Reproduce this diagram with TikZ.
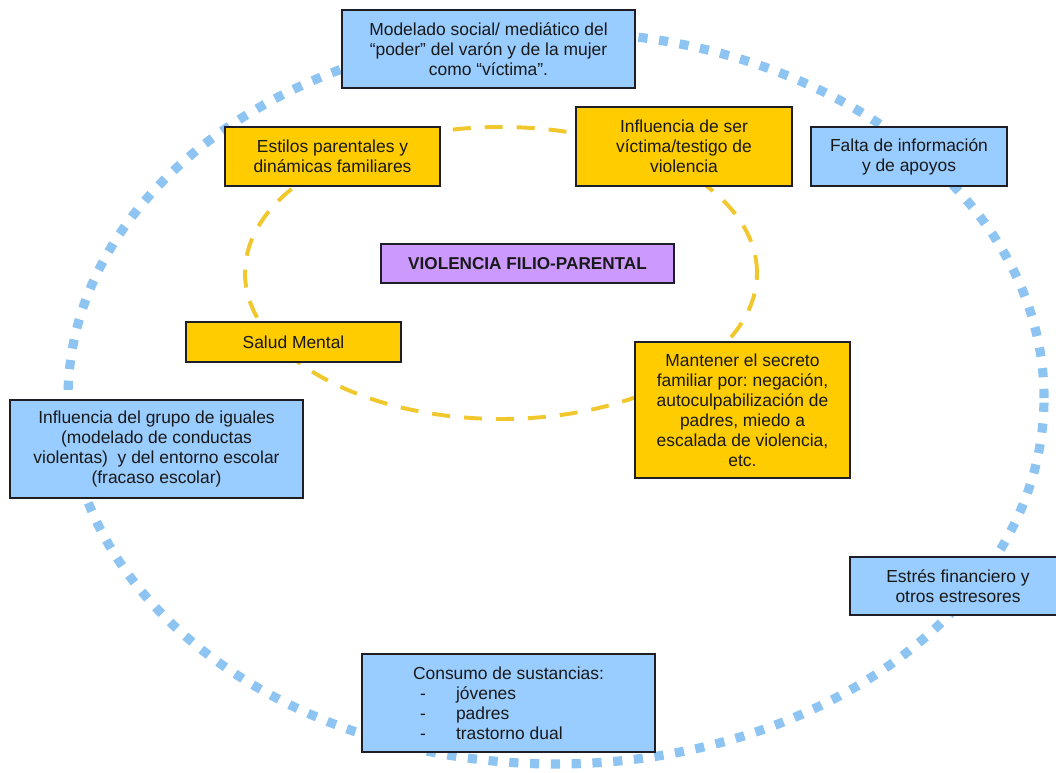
\documentclass[tikz,border=0pt]{standalone}
\usepackage{fontspec}
\setmainfont{Liberation Sans}
\usepackage{tikz}
\frenchspacing

\definecolor{boxblue}{RGB}{153,204,255}
\definecolor{boxorange}{RGB}{255,204,0}
\definecolor{boxpurple}{RGB}{204,153,255}
\definecolor{dotblue}{RGB}{142,196,242}
\definecolor{dashyellow}{RGB}{240,200,45}
\definecolor{boxline}{RGB}{30,30,40}

\tikzset{
  factor/.style={draw=boxline, line width=0.9pt, inner sep=0pt, align=center,
    font=\fontsize{12.4}{14.2}\selectfont, text=black!90},
  outerfactor/.style={factor, fill=boxblue},
  innerfactor/.style={factor, fill=boxorange},
  corefactor/.style={factor, fill=boxpurple, font=\fontsize{12.2}{14.2}\selectfont\bfseries},
}

\begin{document}
\begin{tikzpicture}
                  \useasboundingbox (0,0) rectangle (26.4,-19.325);
                  \coordinate (O) at (13.9,-9.95);
                  \coordinate (I) at (12.525,-6.825);
                  % Draw the two rings
                  \draw[dotblue, line width=0.23cm, dash pattern=on 0.23cm off 0.29cm] (O) ellipse [x radius=12.2cm, y radius=9.15cm];
                  \draw[dashyellow, line width=2.8pt, dash pattern=on 0.45cm off 0.35cm] (I) ellipse [x radius=6.4cm, y radius=3.65cm];

                  % Outer factors (blue)
                  \node[outerfactor, minimum width=7.325cm, minimum height=1.95cm] (modelado) at (12.2125,-1.225)
                    {Modelado social/ mediático del\\ “poder” del varón y de la mujer\\ como “víctima”.};
                  \node[outerfactor, minimum width=4.9cm, minimum height=1.475cm] (falta) at (22.725,-3.9125)
                    {Falta de información\\ y de apoyos};
                  \node[outerfactor, minimum width=7.325cm, minimum height=2.45cm] (grupo) at (3.9125,-11.225)
                    {Influencia del grupo de iguales\\ (modelado de conductas\\ violentas)~ y del entorno escolar\\ (fracaso escolar)};
                  \node[outerfactor, minimum width=5.4cm, minimum height=1.45cm] (estres) at (23.95,-14.65)
                    {Estrés financiero y\\ otros estresores};
                  \node[outerfactor, minimum width=7.325cm, minimum height=2.45cm, align=left] (consumo) at (12.7125,-17.575)
                    {Consumo de sustancias:\\
                     \makebox[1.075cm][l]{\hspace{0.175cm}-}jóvenes\\
                     \makebox[1.075cm][l]{\hspace{0.175cm}-}padres\\
                     \makebox[1.075cm][l]{\hspace{0.175cm}-}trastorno dual};

                  % Inner factors (orange)
                  \node[innerfactor, minimum width=5.375cm, minimum height=1.475cm] (estilos) at (8.3125,-3.9125)
                    {Estilos parentales y\\ dinámicas familiares};
                  \node[innerfactor, minimum width=5.4cm, minimum height=1.975cm] (influencia) at (17.1,-3.6625)
                    {Influencia de ser\\ víctima/testigo de\\ violencia};
                  \node[innerfactor, minimum width=5.375cm, minimum height=1cm] (salud) at (7.3375,-8.55)
                    {Salud Mental};
                  \node[innerfactor, minimum width=5.375cm, minimum height=3.4cm] (mantener) at (18.5625,-10.25)
                    {Mantener el secreto\\ familiar por: negación,\\ autoculpabilización de\\ padres, miedo a\\ escalada de violencia,\\ etc.};

                  % Core
                  \node[corefactor, minimum width=7.325cm, minimum height=0.975cm] (vfp) at (13.1875,-6.5875)
                    {VIOLENCIA FILIO-PARENTAL};
              \end{tikzpicture}
\end{document}
